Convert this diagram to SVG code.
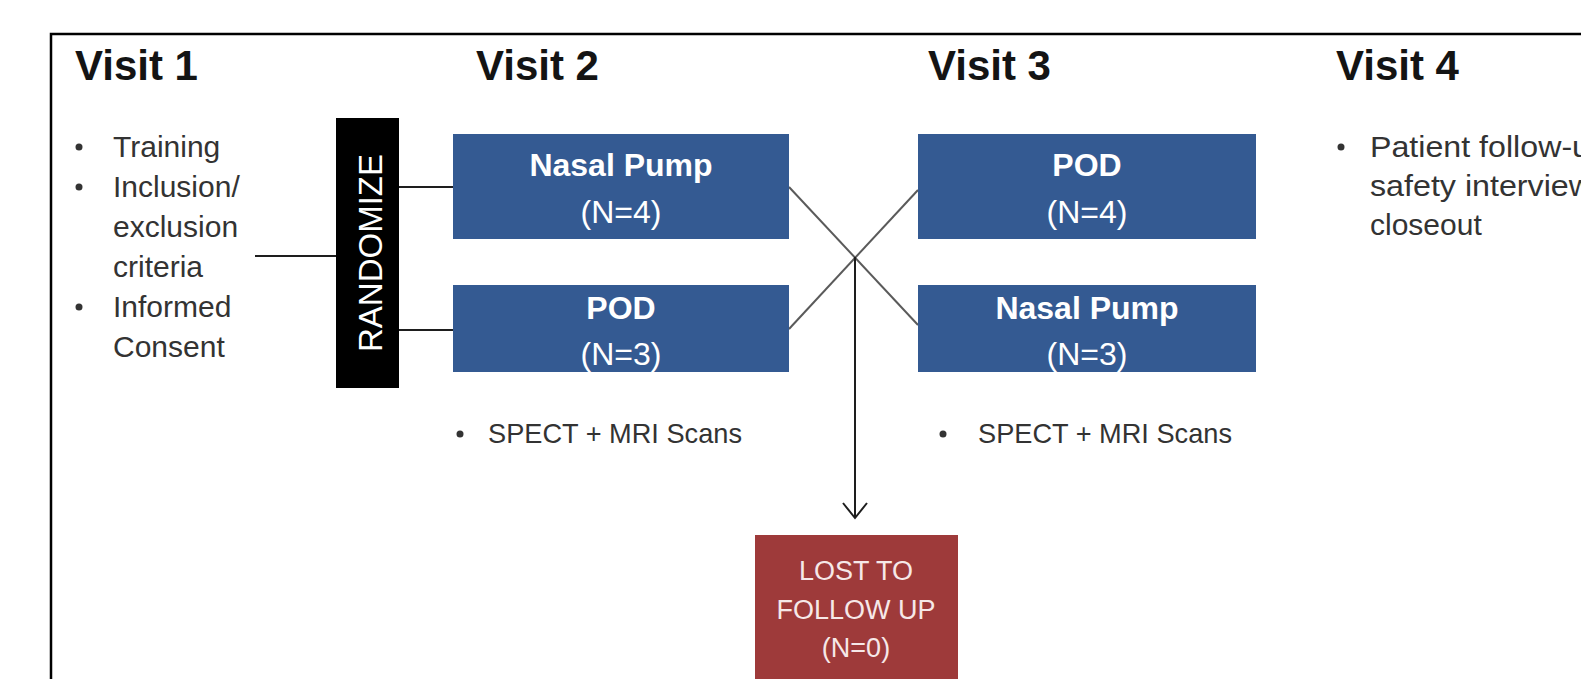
<svg xmlns="http://www.w3.org/2000/svg" width="1581" height="679" viewBox="0 0 1581 679">
  <style>
    .heading { font-family: "Liberation Sans", Arial, sans-serif; font-weight: bold; font-size: 42px; fill: #141414; }
    .body { font-family: "Liberation Sans", Arial, sans-serif; font-size: 30px; fill: #333333; }
    .scan { font-family: "Liberation Sans", Arial, sans-serif; font-size: 28px; fill: #333333; }
    .bullet { fill: #333333; }
    .arm { fill: #345a92; }
    .lost { fill: #9e3a3a; }
    .boxname { font-family: "Liberation Sans", Arial, sans-serif; font-weight: bold; font-size: 32px; fill: #ffffff; text-anchor: middle; }
    .boxcount { font-family: "Liberation Sans", Arial, sans-serif; font-size: 32px; fill: #ffffff; text-anchor: middle; }
    .lostlabel { font-family: "Liberation Sans", Arial, sans-serif; font-size: 27px; fill: #f6e8e8; text-anchor: middle; }
    .link { stroke: #1e1e1e; stroke-width: 2; fill: none; }
    .cross { stroke: #5a5a5a; stroke-width: 2; fill: none; }
  </style>
  <defs>
    <marker id="openArrow" viewBox="0 0 18 26" refX="16" refY="13" markerWidth="18" markerHeight="26" markerUnits="userSpaceOnUse" orient="auto">
      <path d="M1,1 L16,13 L1,25" fill="none" stroke="#1e1e1e" stroke-width="2"/>
    </marker>
  </defs>

  <rect width="1581" height="679" fill="#ffffff"/>

  <!-- outer frame, running off the right and bottom edges -->
  <rect id="frame" x="51" y="34" width="1600" height="700" fill="none" stroke="#000000" stroke-width="2.5"/>

  <!-- column headings -->
  <g id="headings">
    <text class="heading" x="75" y="80">Visit 1</text>
    <text class="heading" x="476" y="80">Visit 2</text>
    <text class="heading" x="928" y="80">Visit 3</text>
    <text class="heading" x="1336" y="80">Visit 4</text>
  </g>

  <!-- connectors -->
  <g id="connectors">
    <line class="link" x1="255" y1="256" x2="336" y2="256"/>
    <line class="link" x1="399" y1="187" x2="453" y2="187"/>
    <line class="link" x1="399" y1="330" x2="453" y2="330"/>
    <line class="cross" x1="789" y1="187" x2="918" y2="325"/>
    <line class="cross" x1="789" y1="329" x2="918" y2="190"/>
    <line class="link" x1="855" y1="257" x2="855" y2="518" marker-end="url(#openArrow)"/>
  </g>

  <!-- visit 1 tasks -->
  <g id="visit1-tasks">
    <circle class="bullet" cx="79" cy="147" r="3.5"/>
    <circle class="bullet" cx="79" cy="187" r="3.5"/>
    <circle class="bullet" cx="79" cy="307" r="3.5"/>
    <text class="body" x="113" y="157">Training</text>
    <text class="body" x="113" y="197">Inclusion/</text>
    <text class="body" x="113" y="237">exclusion</text>
    <text class="body" x="113" y="277">criteria</text>
    <text class="body" x="113" y="317">Informed</text>
    <text class="body" x="113" y="357">Consent</text>
  </g>

  <!-- randomization bar -->
  <g id="randomize">
    <rect x="336" y="118" width="63" height="270" fill="#000000"/>
    <text transform="translate(382 253) rotate(-90)" font-family="Liberation Sans, Arial, sans-serif" font-size="33" fill="#ffffff" text-anchor="middle">RANDOMIZE</text>
  </g>

  <!-- visit 2 arms -->
  <g id="v2-nasal-pump">
    <rect class="arm" x="453" y="134" width="336" height="105"/>
    <text class="boxname" x="621" y="176">Nasal Pump</text>
    <text class="boxcount" x="621" y="223">(N=4)</text>
  </g>
  <g id="v2-pod">
    <rect class="arm" x="453" y="285" width="336" height="87"/>
    <text class="boxname" x="621" y="319">POD</text>
    <text class="boxcount" x="621" y="365">(N=3)</text>
  </g>
  <g id="v2-scans">
    <circle class="bullet" cx="460" cy="434" r="3.5"/>
    <text class="scan" x="488" y="443" textLength="254" lengthAdjust="spacingAndGlyphs">SPECT + MRI Scans</text>
  </g>

  <!-- visit 3 arms -->
  <g id="v3-pod">
    <rect class="arm" x="918" y="134" width="338" height="105"/>
    <text class="boxname" x="1087" y="176">POD</text>
    <text class="boxcount" x="1087" y="223">(N=4)</text>
  </g>
  <g id="v3-nasal-pump">
    <rect class="arm" x="918" y="285" width="338" height="87"/>
    <text class="boxname" x="1087" y="319">Nasal Pump</text>
    <text class="boxcount" x="1087" y="365">(N=3)</text>
  </g>
  <g id="v3-scans">
    <circle class="bullet" cx="943" cy="434" r="3.5"/>
    <text class="scan" x="978" y="443" textLength="254" lengthAdjust="spacingAndGlyphs">SPECT + MRI Scans</text>
  </g>

  <!-- visit 4 tasks -->
  <g id="visit4-tasks">
    <circle class="bullet" cx="1341" cy="147" r="3.5"/>
    <text class="body" x="1370" y="157" textLength="220" lengthAdjust="spacingAndGlyphs">Patient follow-u</text>
    <text class="body" x="1370" y="196" textLength="222" lengthAdjust="spacingAndGlyphs">safety interview</text>
    <text class="body" x="1370" y="235">closeout</text>
  </g>

  <!-- dropout box -->
  <g id="lost-to-follow-up">
    <rect class="lost" x="755" y="535" width="203" height="160"/>
    <text class="lostlabel" x="856" y="580">LOST TO</text>
    <text class="lostlabel" x="856" y="619">FOLLOW UP</text>
    <text class="lostlabel" x="856" y="657">(N=0)</text>
  </g>
</svg>
